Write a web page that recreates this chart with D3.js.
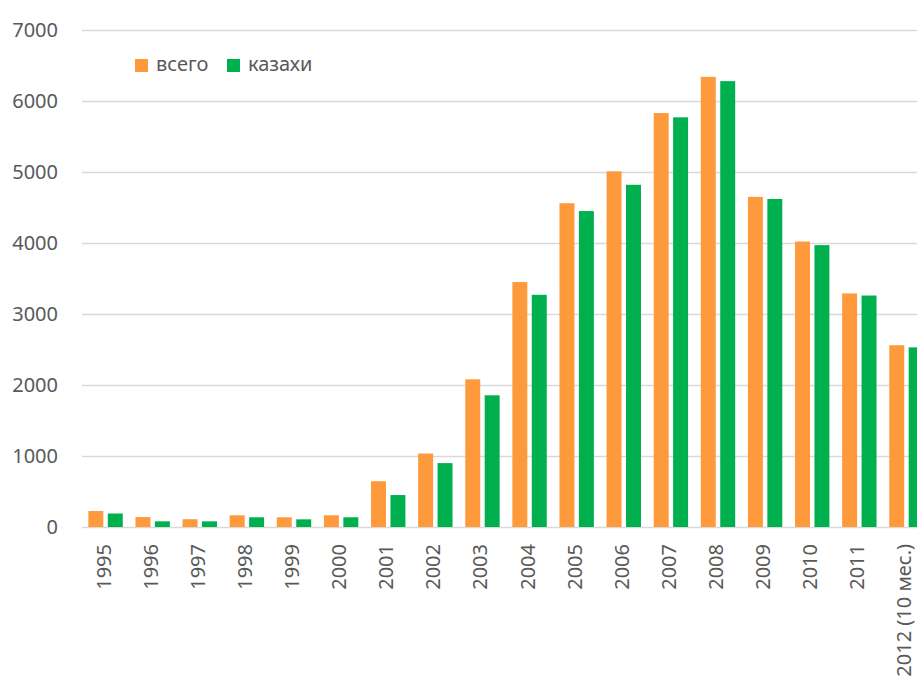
<!DOCTYPE html>
<html>
<head>
<meta charset="utf-8">
<script src="https://cdn.jsdelivr.net/npm/d3@7"></script>
<style>
  body { margin: 0; background: #fff; overflow: hidden; }
  text { font-family: "Noto Sans", "Open Sans", sans-serif; fill: #595959; }
</style>
</head>
<body>
<div id="chart"></div>
<script>
// categories and series
const years = ['1995', '1996', '1997', '1998', '1999', '2000', '2001', '2002', '2003',
    '2004', '2005', '2006', '2007', '2008', '2009', '2010', '2011', '2012 (10 мес.)']
const total = [225, 140, 110, 165, 137, 165, 645, 1035, 2080,
    3450, 4560, 5010, 5830, 6340, 4650, 4020, 3290, 2560]
const kazakh = [190, 80, 80, 137, 108, 137, 450, 900, 1855,
    3270, 4450, 4820, 5770, 6280, 4620, 3970, 3260, 2530]
const seriesNames = ['всего', 'казахи']
const colors = ['#ff9a3c', '#00b04f']
const yTicks = [0, 1000, 2000, 3000, 4000, 5000, 6000, 7000]

const width = 917, height = 684
const plotLeft = 82, plotRight = 930, plotTop = 30, plotBottom = 527

const svg = d3.select('#chart').append('svg')
    .attr('width', width)
    .attr('height', height)

const x = d3.scaleBand()
    .domain(years)
    .range([plotLeft, plotRight])
    .paddingInner(0.27)
    .paddingOuter(0.135)

const x1 = d3.scaleBand()
    .domain(seriesNames)
    .range([0, x.bandwidth()])
    .paddingInner(0.23)

const y = d3.scaleLinear()
    .domain([0, 7000])
    .range([plotBottom, plotTop])

// gridlines + y labels
const yAxis = d3.axisLeft(y)
    .tickValues(yTicks)
    .tickSize(-(plotRight - plotLeft))
    .tickPadding(24)
    .tickFormat(d3.format('d'))

const gy = svg.append('g')
    .attr('transform', `translate(${plotLeft},0)`)
    .call(yAxis)
gy.select('.domain').remove()
gy.selectAll('line').attr('stroke', '#d9d9d9').attr('stroke-width', 1.5)
gy.selectAll('text').style('font-size', '20px').attr('fill', '#595959')

// bars
const rows = years.map((yr, i) => ({ year: yr, values: [total[i], kazakh[i]] }))

const groups = svg.selectAll('.grp')
    .data(rows)
    .enter()
    .append('g')
    .attr('class', 'grp')
    .attr('transform', d => `translate(${x(d.year)},0)`)

groups.selectAll('rect')
    .data(d => d.values.map((v, k) => ({ key: seriesNames[k], value: v, k: k })))
    .enter()
    .append('rect')
    .attr('x', d => x1(d.key))
    .attr('y', d => y(d.value))
    .attr('width', x1.bandwidth())
    .attr('height', d => y(0) - y(d.value))
    .attr('fill', d => colors[d.k])

// x labels, rotated
const xAxis = d3.axisBottom(x).tickSize(0).tickPadding(0)
const gx = svg.append('g')
    .attr('transform', `translate(0,${plotBottom})`)
    .call(xAxis)
gx.select('.domain').remove()
gx.selectAll('text')
    .style('font-size', '20px')
    .attr('fill', '#595959')
    .attr('text-anchor', 'end')
    .attr('transform', 'rotate(-90)')
    .attr('x', -17)
    .attr('y', -2)
    .attr('dy', '0.35em')

// legend
const legendX = [135, 227]
const legend = svg.append('g')
seriesNames.forEach((name, k) => {
    legend.append('rect')
        .attr('x', legendX[k])
        .attr('y', 59)
        .attr('width', 13)
        .attr('height', 13)
        .attr('fill', colors[k])
    legend.append('text')
        .attr('x', legendX[k] + 21)
        .attr('y', 71)
        .style('font-size', '20px')
        .text(name)
})
</script>
</body>
</html>
